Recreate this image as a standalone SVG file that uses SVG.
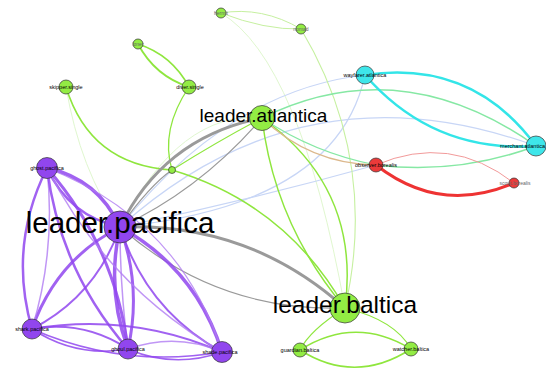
<svg xmlns="http://www.w3.org/2000/svg" width="546" height="371" viewBox="0 0 546 371">
<style>
.e{fill:none;stroke-linecap:round}
.p{stroke:#9146ee;opacity:.85}
.pl{stroke:#b07cf2;opacity:.8}
.g{stroke:#8fe63e}
.gl{stroke:#c6f0a0}
.gf{stroke:#e0f7cf}
.gr{stroke:#9a9a9a}
.bl{stroke:#c8d6f6}
.cy{stroke:#33e5e8}
.mi{stroke:#86e8a4}
.tn{stroke:#dcb88c}
.rd{stroke:#ee3333}
.rl{stroke:#f29a9a}
circle{stroke:#333;stroke-width:.7}
.np{fill:#9146ee}.ng{fill:#93ec44}.nc{fill:#3ee6ea}.nr{fill:#ec3a3a}
text{font-family:"Liberation Sans",Arial,sans-serif;text-anchor:middle;fill:#000}
.s{font-size:5.5px}
.sg{font-size:5px;fill:#666}
</style>
<rect width="546" height="371" fill="#fff"/>
<g id="connectors">
<path class="e gf" stroke-width="1" d="M221,13 Q300,60 345,308"/>
<path class="e gf" stroke-width="1" d="M66,87 Q80,170 120,227"/>
<path class="e gf" stroke-width="1" d="M120,227 Q180,110 262,118"/>
<path class="e bl" stroke-width="1.2" d="M120,227 Q304,62 536,146"/>
<path class="e bl" stroke-width="1.2" d="M365,75 Q337,205 120,227"/>
<path class="e bl" stroke-width="1.2" d="M120,227 Q230,90 365,75"/>
<path class="e bl" stroke-width="1.2" d="M120,227 Q250,200 376,165"/>
<path class="e gl" stroke-width="1" d="M221,13 Q262,6 301,29"/>
<path class="e gl" stroke-width="1" d="M221,13 Q265,30 301,29"/>
<path class="e gl" stroke-width="1.1" d="M301,29 Q379,160 345,308"/>
<path class="e g" stroke-width="1.8" d="M138,44 Q155,76 189,87"/>
<path class="e g" stroke-width="1.8" d="M138,44 Q172,55 189,87"/>
<path class="e g" stroke-width="1.3" d="M189,87 Q160,130 172,170"/>
<path class="e g" stroke-width="1.6" d="M66,87 Q90,165 172,170"/>
<path class="e g" stroke-width="1.5" d="M172,170 Q286,204 345,308"/>
<path class="e g" stroke-width="1.5" d="M262,118 Q275,225 345,308"/>
<path class="e g" stroke-width="1.5" d="M262,118 Q361,188 345,308"/>
<path class="e g" stroke-width="1.2" d="M262,118 Q220,140 172,170"/>
<path class="e g" stroke-width="1.2" d="M345,308 Q310,330 300,350"/>
<path class="e g" stroke-width="1.2" d="M345,308 Q395,320 411,349"/>
<path class="e g" stroke-width="1.5" d="M300,350 Q355,315 411,349"/>
<path class="e g" stroke-width="1.5" d="M300,350 Q355,385 411,349"/>
<path class="e mi" stroke-width="1.5" d="M262,118 Q400,50 536,146"/>
<path class="e mi" stroke-width="1.5" d="M376,165 Q458,175 536,146"/>
<path class="e mi" stroke-width="1.2" d="M262,118 Q314,153 376,165"/>
<path class="e tn" stroke-width="1.2" d="M262,118 Q310,164 376,165"/>
<path class="e cy" stroke-width="2.5" d="M365,75 Q472,59 536,146"/>
<path class="e cy" stroke-width="2.5" d="M365,75 Q433,153 536,146"/>
<path class="e rd" stroke-width="3" d="M376,165 Q440,215 514,183"/>
<path class="e rl" stroke-width="1" d="M376,165 Q450,133 514,183"/>
<path class="e gr" stroke-width="3" d="M262,118 Q164,137 120,227"/>
<path class="e gr" stroke-width="1.2" d="M262,118 Q200,190 120,227"/>
<path class="e gr" stroke-width="1.2" d="M172,170 Q150,185 120,227"/>
<path class="e gr" stroke-width="3" d="M120,227 Q249,222 345,308"/>
<path class="e gr" stroke-width="1.2" d="M120,227 Q216,312 345,308"/>
<path class="e p" stroke-width="3.5" d="M120,227 Q98,179 47,168"/>
<path class="e p" stroke-width="2.5" d="M120,227 Q69,216 47,168"/>
<path class="e p" stroke-width="3" d="M120,227 Q56,260 32,329"/>
<path class="e p" stroke-width="2" d="M120,227 Q96,296 32,329"/>
<path class="e p" stroke-width="3.5" d="M120,227 Q106,289 128,349"/>
<path class="e p" stroke-width="3" d="M120,227 Q142,287 128,349"/>
<path class="e pl" stroke-width="1.5" d="M120,227 Q120,288 128,349"/>
<path class="e p" stroke-width="2" d="M120,227 Q146,310 222,352"/>
<path class="e p" stroke-width="3.5" d="M120,227 Q196,269 222,352"/>
<path class="e p" stroke-width="2.5" d="M47,168 Q8,246 32,329"/>
<path class="e pl" stroke-width="1.5" d="M47,168 Q56,250 32,329"/>
<path class="e p" stroke-width="2.5" d="M47,168 Q60,271 128,349"/>
<path class="e p" stroke-width="3" d="M47,168 Q115,246 128,349"/>
<path class="e pl" stroke-width="1.5" d="M47,168 Q107,286 222,352"/>
<path class="e pl" stroke-width="1.2" d="M47,168 Q180,220 222,352"/>
<path class="e p" stroke-width="1.5" d="M32,329 Q76,358 128,349"/>
<path class="e p" stroke-width="2" d="M32,329 Q84,320 128,349"/>
<path class="e p" stroke-width="1.5" d="M32,329 Q123,369 222,352"/>
<path class="e p" stroke-width="2" d="M32,329 Q130,312 222,352"/>
<path class="e p" stroke-width="1.5" d="M128,349 Q174,369 222,352"/>
<path class="e pl" stroke-width="1.5" d="M128,349 Q176,332 222,352"/>
</g>
<g id="n-skipper"><circle class="ng" cx="66" cy="87" r="7"/><text class="s" x="66" y="89">skipper.single</text></g>
<g id="n-diver"><circle class="ng" cx="189" cy="87" r="7"/><text class="s" x="190" y="89">diver.single</text></g>
<g id="n-loner"><circle class="ng" cx="138" cy="44" r="5"/><text class="sg" x="138" y="46">loner</text></g>
<g id="n-hermit"><circle class="ng" cx="221" cy="13" r="5"/><text class="sg" x="221" y="15">hermit</text></g>
<g id="n-nomad"><circle class="ng" cx="301" cy="29" r="5"/><text class="sg" x="301" y="31">nomad</text></g>
<g id="n-bridge"><circle class="ng" cx="172" cy="170" r="3.5"/></g>
<g id="n-wayfarer"><circle class="nc" cx="365" cy="75" r="9"/><text class="s" x="365" y="77">wayfarer.atlantica</text></g>
<g id="n-merchant"><circle class="nc" cx="536" cy="146" r="10"/><text class="s" x="545" y="148" style="text-anchor:end">merchant.atlantica</text></g>
<g id="n-observer"><circle class="nr" cx="376" cy="165" r="7"/><text class="s" x="376" y="167">observer.borealis</text></g>
<g id="n-scout"><circle class="nr" cx="514" cy="183" r="5"/><text class="sg" x="515" y="185">scout.borealis</text></g>
<g id="n-ghost"><circle class="np" cx="47" cy="168" r="10.5"/><text class="s" x="47" y="170">ghost.pacifica</text></g>
<g id="n-shark"><circle class="np" cx="32" cy="329" r="10"/><text class="s" x="32" y="331">shark.pacifica</text></g>
<g id="n-ghoul"><circle class="np" cx="128" cy="349" r="10"/><text class="s" x="128" y="351">ghoul.pacifica</text></g>
<g id="n-shade"><circle class="np" cx="222" cy="352" r="10.5"/><text class="s" x="220" y="354">shade.pacifica</text></g>
<g id="n-guardian"><circle class="ng" cx="300" cy="350" r="7"/><text class="s" x="300" y="352">guardian.baltica</text></g>
<g id="n-watcher"><circle class="ng" cx="411" cy="349" r="7"/><text class="s" x="411" y="351">watcher.baltica</text></g>
<g id="n-leader-atlantica"><circle class="ng" cx="262" cy="118" r="12.5"/><text x="263.5" y="122" font-size="19">leader.atlantica</text></g>
<g id="n-leader-pacifica"><circle class="np" cx="120" cy="227" r="16"/><text x="120" y="233" font-size="29.5">leader.pacifica</text></g>
<g id="n-leader-baltica"><circle class="ng" cx="345" cy="308" r="15"/><text x="345" y="313" font-size="24.5">leader.baltica</text></g>
</svg>
